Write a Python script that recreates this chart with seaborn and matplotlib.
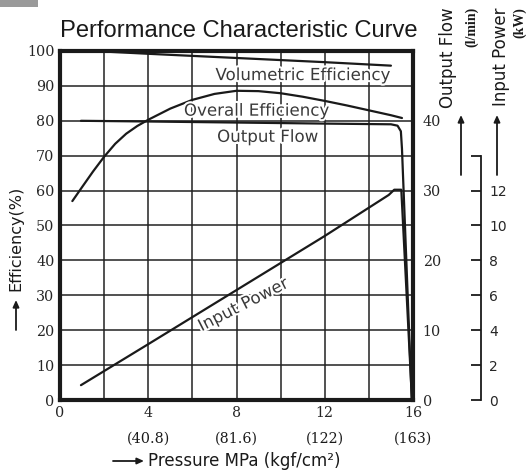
import numpy as np
import pandas as pd
import matplotlib
matplotlib.use("Agg")
import matplotlib.pyplot as plt
import matplotlib.patheffects as pe
from matplotlib.patches import Rectangle
import seaborn as sns

# ---------------- data ----------------
vol_x = [1.5, 4.0, 8.0, 12.0, 15.0]
vol_y = [100.0, 99.2, 98.0, 96.8, 95.8]

ovr_x = [0.56, 1.0, 1.5, 2.0, 2.5, 3.0, 3.5, 4.0, 5.0, 6.0, 7.0, 8.0, 9.0, 10.0, 11.0, 12.0, 13.0, 14.0, 15.0, 15.5]
ovr_y = [57.0, 61.0, 65.5, 69.7, 73.4, 76.3, 78.5, 80.3, 83.5, 86.0, 87.7, 88.6, 88.5, 87.9, 86.9, 85.7, 84.4, 83.0, 81.6, 80.8]

flow_x = [0.95, 4.0, 8.0, 12.0, 15.0, 15.3, 15.45, 15.5, 15.94]
flow_y = [40.0, 39.9, 39.75, 39.6, 39.5, 39.3, 38.5, 36.0, 0.3]

pow_x = [0.95, 4.0, 8.0, 12.0, 14.9, 15.15, 15.47, 15.95]
pow_y = [0.85, 3.2, 6.3, 9.4, 11.75, 12.05, 12.05, 0.1]

x_ticks = [0, 4, 8, 12, 16]
x_tick_labels = ["0", "4", "8", "12", "16"]
kgf_ticks = [4, 8, 12, 16]
kgf_labels = ["(40.8)", "(81.6)", "(122)", "(163)"]
eff_ticks = [0, 10, 20, 30, 40, 50, 60, 70, 80, 90, 100]
flow_ticks = [0, 10, 20, 30, 40]
pow_ticks = [0, 2, 4, 6, 8, 10, 12, 14]
pow_tick_labels = ["0", "2", "4", "6", "8", "10", "12", ""]

# ---------------- style ----------------
sns.set_style("white")
plt.rcParams["font.family"] = ["DejaVu Sans"]

W, H = 526, 472
fig = plt.figure(figsize=(W / 100, H / 100), dpi=100)
L, R, T, B = 60, 413, 51, 400
ax = fig.add_axes([L / W, 1 - B / H, (R - L) / W, (B - T) / H])

ink = "#1a1a1a"
lw = 1.6
serif = ["DejaVu Serif"]
tfs = 10.3

sns.lineplot(x=vol_x, y=vol_y, ax=ax, color=ink, lw=lw, sort=False, estimator=None)
sns.lineplot(x=ovr_x, y=ovr_y, ax=ax, color=ink, lw=lw, sort=False, estimator=None)

ax.set_xlim(0, 16)
ax.set_ylim(0, 100)
ax.set_xticks(x_ticks)
ax.set_xticks([2, 6, 10, 14], minor=True)
ax.set_xticklabels(x_tick_labels, family=serif, fontsize=tfs)
ax.set_yticks(eff_ticks)
ax.set_yticklabels([str(v) for v in eff_ticks], family=serif, fontsize=tfs)
ax.tick_params(axis="both", which="both", length=0, pad=4)
ax.tick_params(axis="x", pad=4)
ax.grid(True, which="both", color="#222222", lw=1.1)
for s in ax.spines.values():
    s.set_linewidth(3)
    s.set_color(ink)
ax.set_xlabel("")
ax.set_ylabel("")

# second line of pressure tick labels (kgf/cm2)
for xv, lbl in zip(kgf_ticks, kgf_labels):
    ax.annotate(lbl, xy=(xv, 0), xycoords=("data", "axes fraction"),
                xytext=(0, -39), textcoords="offset pixels",
                ha="center", va="center", family=serif, fontsize=tfs, color=ink,
                annotation_clip=False)

# output flow axis
ax2 = ax.twinx()
sns.lineplot(x=flow_x, y=flow_y, ax=ax2, color=ink, lw=lw, sort=False, estimator=None)
ax2.set_ylim(0, 50)
ax2.set_yticks(flow_ticks)
ax2.set_yticklabels([str(v) for v in flow_ticks], family=serif, fontsize=tfs)
ax2.tick_params(axis="y", length=0, pad=7)
for s in ax2.spines.values():
    s.set_visible(False)
ax2.set_ylabel("")

# input power axis
ax3 = ax.twinx()
sns.lineplot(x=pow_x, y=pow_y, ax=ax3, color=ink, lw=lw, sort=False, estimator=None)
ax3.set_ylim(0, 20)
ax3.set_yticks(pow_ticks)
ax3.set_yticklabels(pow_tick_labels, family=serif, fontsize=tfs)
for k, s in ax3.spines.items():
    s.set_visible(k == "right")
ax3.spines["right"].set_position(("outward", 49))
ax3.spines["right"].set_bounds(0, 14)
ax3.spines["right"].set_linewidth(1.3)
ax3.spines["right"].set_color(ink)
ax3.tick_params(axis="y", direction="in", length=7, width=1.3, color=ink, pad=6)
ax3.set_ylabel("")

# curve labels
halo = [pe.withStroke(linewidth=3, foreground="white")]
lab = dict(color="#3a3a3a", fontsize=12, ha="center", va="center", path_effects=halo)
ax.text(11.0, 93.1, "Volumetric Efficiency", **lab)
ax.text(8.9, 82.9, "Overall Efficiency", **lab)
ax.text(9.4, 75.4, "Output Flow", **lab)
ax.text(8.3, 27.3, "Input Power", rotation=27, **lab)

# titles / axis labels
fig.text(L / W, 1 - 37 / H, "Performance Characteristic Curve", fontsize=17.1,
         family=["Liberation Sans"], ha="left", va="baseline", color=ink)
fig.text(148 / W, 1 - 461 / H, "Pressure MPa (kgf/cm\u00b2)", fontsize=12,
         ha="left", va="center", color=ink)
fig.text(16 / W, 1 - 238 / H, "Efficiency(%)", fontsize=11.5, rotation=90,
         ha="center", va="center", color=ink)
fig.text(448 / W, 1 - 7 / H, "Output Flow", fontsize=12, rotation=90,
         ha="center", va="top", color=ink)
fig.text(472 / W, 1 - 7 / H, "(l/min)", fontsize=10, rotation=90, family=["Liberation Serif"],
         fontweight="bold", ha="center", va="top", color=ink)
fig.text(501 / W, 1 - 7 / H, "Input Power", fontsize=12, rotation=90,
         ha="center", va="top", color=ink)
fig.text(520 / W, 1 - 7 / H, "(kW)", fontsize=10, rotation=90, family=["Liberation Serif"],
         fontweight="bold", ha="center", va="top", color=ink)

def arrow(x0, y0, x1, y1):
    fig.add_artist(matplotlib.patches.FancyArrowPatch(
        (x0 / W, 1 - y0 / H), (x1 / W, 1 - y1 / H), transform=fig.transFigure,
        arrowstyle="-|>,head_length=4,head_width=1.8", lw=1.3, color=ink,
        mutation_scale=1, shrinkA=0, shrinkB=0))

arrow(113, 461, 144, 461)
arrow(16, 330, 16, 300)
arrow(461, 175, 461, 115)
arrow(497, 175, 497, 115)

fig.add_artist(Rectangle((0, 1 - 7 / H), 38 / W, 7 / H, transform=fig.transFigure,
                         color="#9a9a9a", lw=0))

fig.savefig("out.png", dpi=100)
